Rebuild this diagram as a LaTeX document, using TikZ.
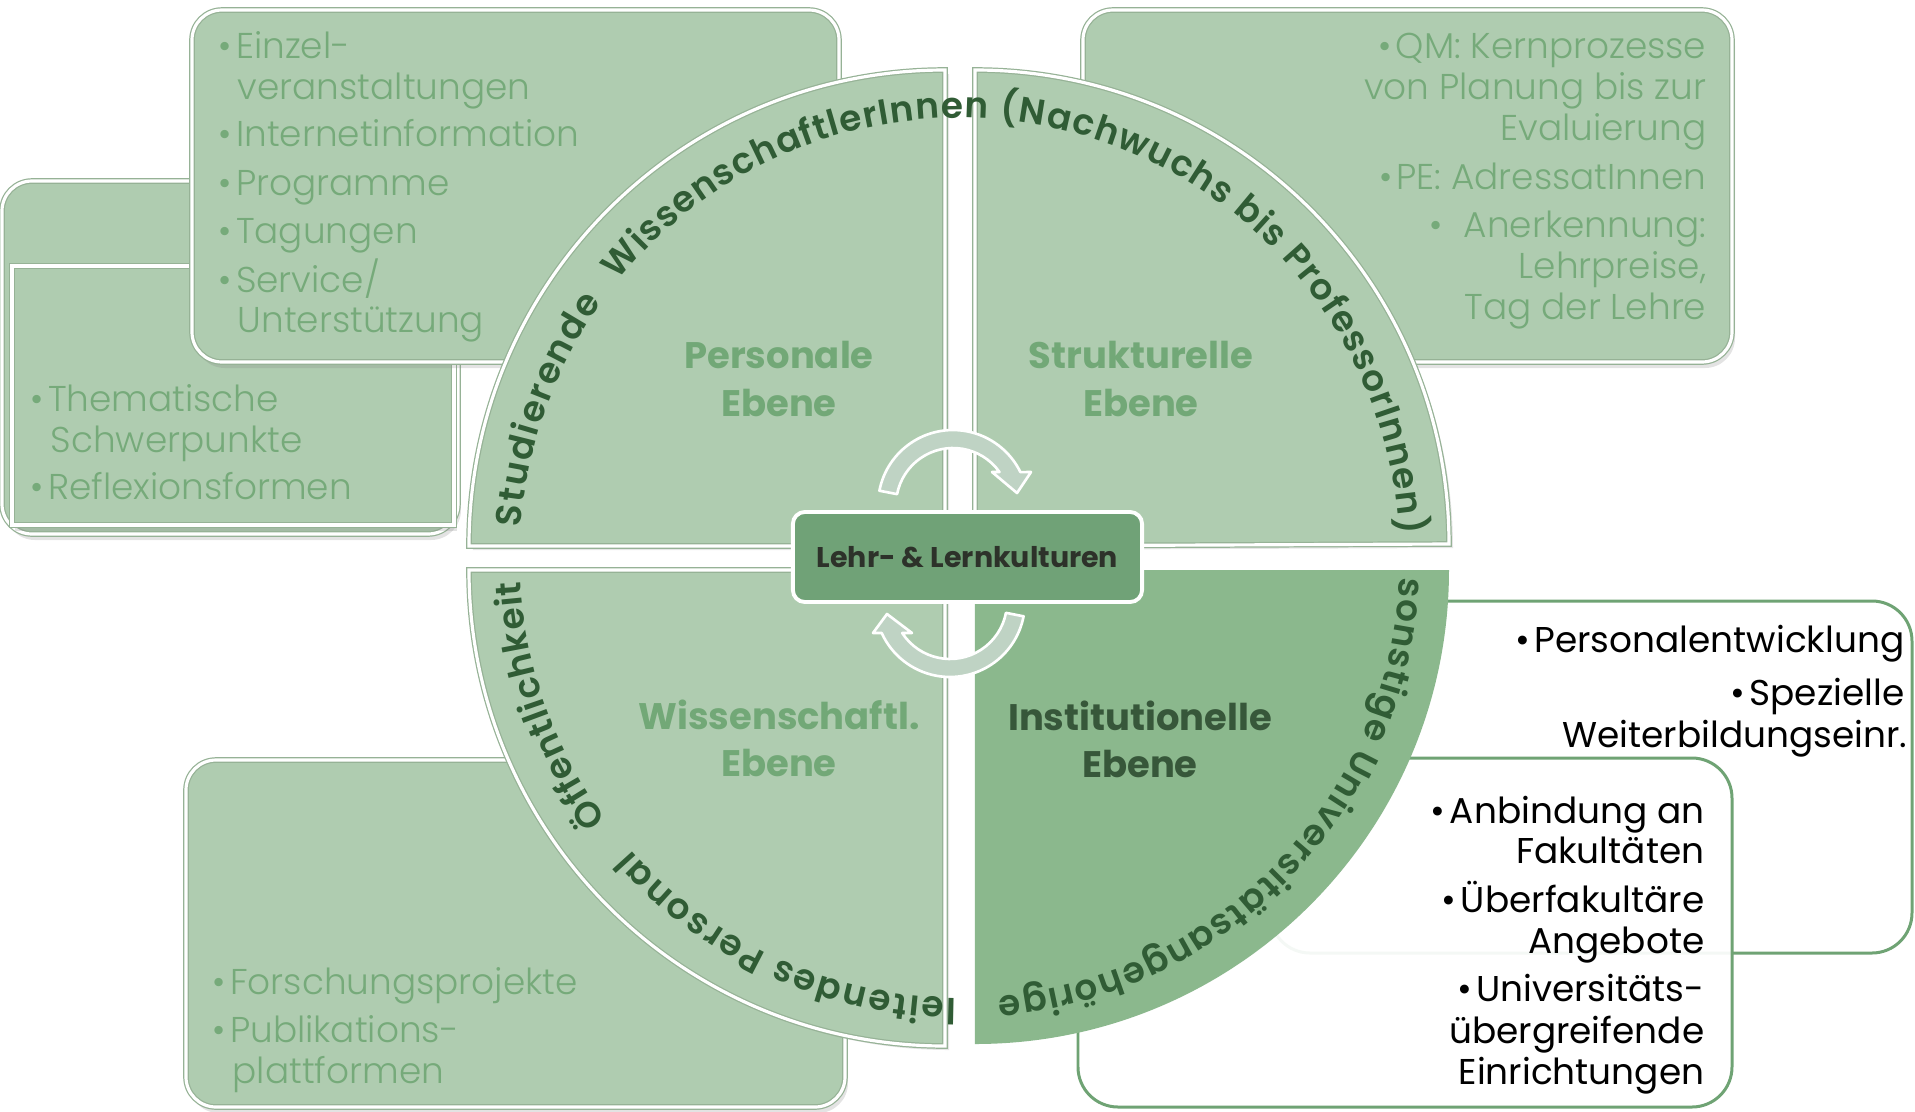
\documentclass[tikz,border=0pt]{standalone}
\usepackage{fontspec}
\setmainfont{Poppins}
\newfontfamily\lightf{Poppins Light}
\newfontfamily\semif{Poppins SemiBold}
\usetikzlibrary{shadows,decorations.text}
\definecolor{lg}{RGB}{175,204,176}
\definecolor{dg}{RGB}{139,184,141}
\definecolor{edgec}{RGB}{150,178,150}
\definecolor{ltext}{RGB}{118,170,122}
\definecolor{lblc}{RGB}{114,168,119}
\definecolor{ilblc}{RGB}{55,87,58}
\definecolor{ctext}{RGB}{48,92,53}
\definecolor{cbox}{RGB}{112,162,119}
\definecolor{cboxtext}{RGB}{45,50,42}
\definecolor{arrfill}{RGB}{191,211,196}
\definecolor{wline}{RGB}{111,163,116}
\newcommand\bul{\textbullet\hspace{0.12em}}
\newcommand\cfont{\semif\fontsize{10.2}{12}\selectfont}
\begin{document}
\begin{tikzpicture}[x=0.01cm,y=0.01cm,
  lbox/.style={fill=lg, draw=edgec, line width=0.35pt, double=white, double distance=0.9pt,
    drop shadow={opacity=0.22, shadow xshift=0.03cm, shadow yshift=-0.06cm}},
  wbox/.style={draw=wline, line width=0.85pt, rounded corners=0.4cm},
  quad/.style={fill=lg, draw=edgec, line width=0.35pt, double=white, double distance=0.9pt,
    drop shadow={opacity=0.2, shadow xshift=0.04cm, shadow yshift=-0.04cm}},
  lst/.style={font=\lightf\fontsize{10.2}{12}\selectfont, text=ltext, inner sep=0pt},
  blk/.style={font=\fontsize{10.2}{12}\selectfont, text=black, inner sep=0pt, anchor=base east},
  lbl/.style={font=\bfseries\fontsize{10.5}{13}\selectfont, text=lblc, inner sep=0pt, anchor=base},
  ctxt/.style={decorate, decoration={text along path, text align=fit to path, text color=ctext}},
  arr/.style={fill=arrfill, draw=white, line width=0.75pt, line join=round}
]
\useasboundingbox (-960,-553) rectangle (955,558);

% left stacked box
\draw[lbox, rounded corners=0.3cm] (-958,377) rectangle (-502,24);
\draw[lbox] (-948,292) rectangle (-506,33);
% top-left box
\draw[lbox, rounded corners=0.3cm] (-768,548) rectangle (-121,196);
% top-right box
\draw[lbox, rounded corners=0.3cm] (123,548) rectangle (772,196);
% bottom-left box
\draw[lbox, rounded corners=0.3cm] (-774,-202) rectangle (-115,-549);
% white boxes bottom right
\draw[wbox, fill=white] (310,-43) rectangle (952,-395);
\draw[wbox, fill=white, fill opacity=0.93] (118,-200) rectangle (772,-549);

% quadrants
\draw[quad] (-15,12) -- (-491,12) arc[start angle=180, end angle=90, radius=476] -- cycle;
\draw[quad] (15,12) -- (15,488) arc[start angle=90, end angle=0, radius=474] -- cycle;
\draw[quad] (-15,-12) -- (-15,-488) arc[start angle=-90, end angle=-180, radius=476] -- cycle;
\fill[dg] (15,-12) -- (489,-12) arc[start angle=0, end angle=-90, radius=474] -- cycle;

% circular arrows
\draw[arr] (-80.6,67.3) arc[start angle=169, end angle=26, radius=75] -- (71,86) -- (57,65) -- (32,86) -- (39.5,86) arc[start angle=35.4, end angle=169, radius=57] -- cycle;
\draw[arr] (63.6,-58.3) arc[start angle=-11, end angle=-155.6, radius=75] -- (-87,-75) -- (-73,-56) -- (-48,-75) -- (-57.8,-75) arc[start angle=-147, end angle=-11, radius=57] -- cycle;

% central box
\node[fill=cbox, draw=white, line width=1.1pt, rounded corners=0.12cm, minimum width=3.49cm,
  minimum height=0.9cm, inner sep=0pt, font=\bfseries\fontsize{8.1}{10}\selectfont, text=cboxtext] (core) at (7.5,1) {Lehr- \& Lernkulturen};

% quadrant labels
\node[lbl] (pers1) at (-181,190) {Personale};
\node[lbl] (pers2) at (-181,142) {Ebene};
\node[lbl] (str1) at (181,190) {Strukturelle};
\node[lbl] (str2) at (181,142) {Ebene};
\node[lbl] (wis1) at (-181,-171) {Wissenschaftl.};
\node[lbl] (wis2) at (-181,-218) {Ebene};
\node[lbl, text=ilblc] (ins1) at (180,-172) {Institutionelle};
\node[lbl, text=ilblc] (ins2) at (180,-219) {Ebene};

% curved texts
\path[ctxt, decoration={text={|\cfont|Studierende}}] (176:440) arc[start angle=176, end angle=144.5, radius=440];
\path[ctxt, decoration={text={|\cfont|WissenschaftlerInnen (Nachwuchs bis ProfessorInnen)}}] (141:440) arc[start angle=141, end angle=3, radius=440];
\path[ctxt, decoration={text={|\cfont|sonstige Universitätsangehörige}}] (-2.5:440) arc[start angle=-2.5, end angle=-85, radius=440];
\path[ctxt, decoration={text={|\cfont|leitendes Personal}}] (-90.5:440) arc[start angle=-90.5, end angle=-138.5, radius=440];
\path[ctxt, decoration={text={|\cfont|Öffentlichkeit}}] (-143.5:440) arc[start angle=-143.5, end angle=-177, radius=440];

% top-left list
\node[lst, anchor=base west] (tl1) at (-742,500) {\bul Einzel-};
\node[lst, anchor=base west] (tl2) at (-723,459) {veranstaltungen};
\node[lst, anchor=base west] (tl3) at (-742,412) {\bul Internetinformation};
\node[lst, anchor=base west] (tl4) at (-742,363) {\bul Programme};
\node[lst, anchor=base west] (tl5) at (-742,315) {\bul Tagungen};
\node[lst, anchor=base west] (tl6) at (-742,266) {\bul Service/};
\node[lst, anchor=base west] (tl7) at (-723,226) {Unterstützung};

% left list
\node[lst, anchor=base west] (l1) at (-930,147) {\bul Thematische};
\node[lst, anchor=base west] (l2) at (-910,106) {Schwerpunkte};
\node[lst, anchor=base west] (l3) at (-930,59) {\bul Reflexionsformen};

% bottom-left list
\node[lst, anchor=base west] (bl1) at (-748,-436) {\bul Forschungsprojekte};
\node[lst, anchor=base west] (bl2) at (-748,-484) {\bul Publikations-};
\node[lst, anchor=base west] (bl3) at (-728,-525) {plattformen};

% top-right list
\node[lst, anchor=base east] (tr1) at (747,500) {\bul QM: Kernprozesse};
\node[lst, anchor=base east] (tr2) at (747,459) {von Planung bis zur};
\node[lst, anchor=base east] (tr3) at (747,418) {Evaluierung};
\node[lst, anchor=base east] (tr4) at (747,369) {\bul PE: AdressatInnen};
\node[lst, anchor=base east] (tr5) at (747,321) {\textbullet\hspace{0.6em}Anerkennung:};
\node[lst, anchor=base east] (tr6) at (747,280) {Lehrpreise,};
\node[lst, anchor=base east] (tr7) at (747,239) {Tag der Lehre};

% box a list
\node[blk] (ba1) at (945,-94) {\bul Personalentwicklung};
\node[blk] (ba2) at (945,-147) {\bul Spezielle};
\node[blk] (ba3) at (948,-189) {Weiterbildungseinr.};

% box b list
\node[blk] (bb1) at (745,-265) {\bul Anbindung an};
\node[blk] (bb2) at (745,-305) {Fakultäten};
\node[blk] (bb3) at (745,-354) {\bul Überfakultäre};
\node[blk] (bb4) at (745,-395) {Angebote};
\node[blk] (bb5) at (745,-443) {\bul Universitäts-};
\node[blk] (bb6) at (745,-485) {übergreifende};
\node[blk] (bb7) at (745,-526) {Einrichtungen};
\end{tikzpicture}
\end{document}
